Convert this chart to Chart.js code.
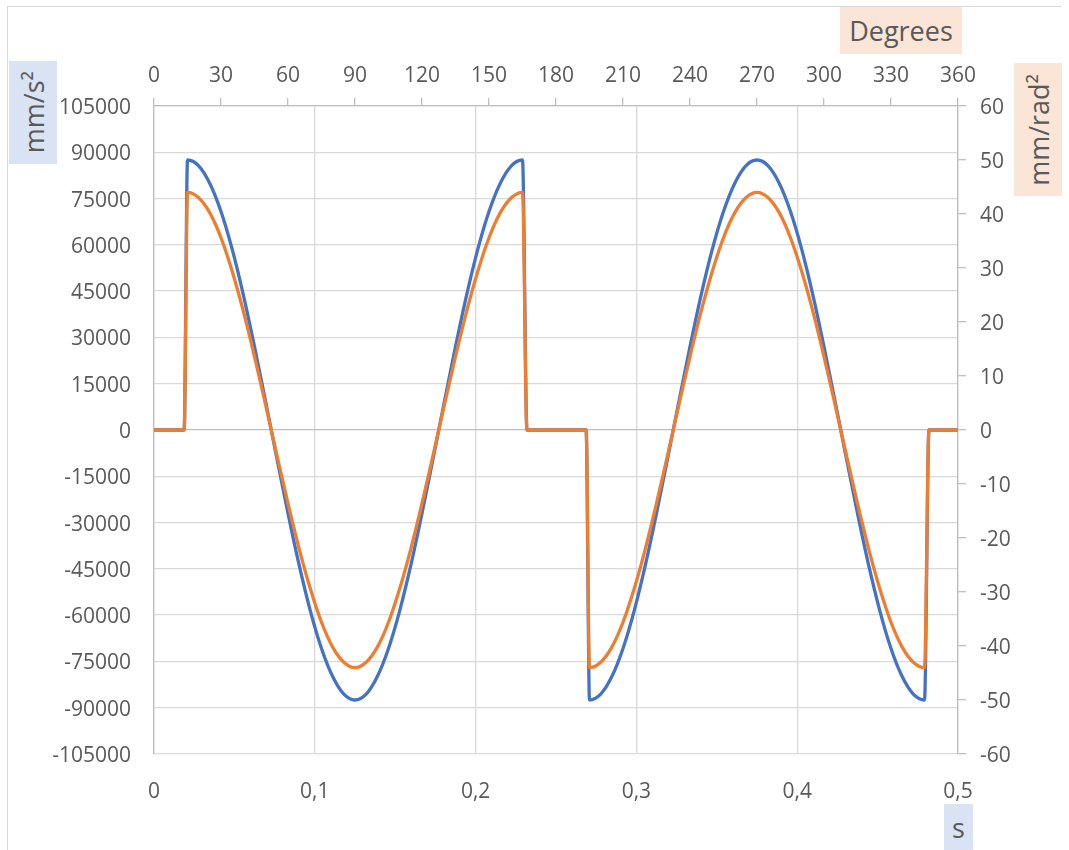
<!DOCTYPE html>
<html>
<head>
<meta charset="utf-8">
<script src="https://cdn.jsdelivr.net/npm/chart.js@4"></script>
<style>
  body { margin: 0; background: #fff; }
  #wrap { position: relative; width: 1069px; height: 850px; overflow: hidden; font-family: "Open Sans", sans-serif; color: #595959; }
  #frame { position: absolute; left: 7px; top: 6px; width: 1054px; height: 870px; border: 1px solid #d9d9d9; border-right: none; box-sizing: border-box; }
  canvas { position: absolute; left: 0; top: 0; }
  .ttl { position: absolute; display: flex; align-items: center; justify-content: center; font-size: 27px; line-height: 1; }
  .vert span { writing-mode: vertical-rl; transform: rotate(180deg); }
</style>
</head>
<body>
<div id="wrap">
  <div id="frame"></div>
  <canvas id="graph" width="1069" height="850"></canvas>
  <div class="ttl" style="left:840px;top:7px;width:122px;height:47px;background:#fbe5d6;">Degrees</div>
  <div class="ttl vert" style="left:9px;top:61px;width:48px;height:103px;background:#dae3f3;"><span>mm/s²</span></div>
  <div class="ttl vert" style="left:1014px;top:63px;width:48px;height:133px;background:#fbe5d6;"><span>mm/rad²</span></div>
  <div class="ttl" style="left:944px;top:804px;width:29px;height:46px;background:#dae3f3;">s</div>
</div>
<script>
// cam angle in degrees (top axis), same span as 0..0.5 s
const degrees = [
  0, 13.5,
  15, 20, 25, 30, 35, 40, 45, 50, 55, 60, 65, 70, 75, 80, 85, 90,
  95, 100, 105, 110, 115, 120, 125, 130, 135, 140, 145, 150, 155, 160, 165,
  167, 193.5,
  195, 200, 205, 210, 215, 220, 225, 230, 235, 240, 245, 250, 255, 260, 265, 270,
  275, 280, 285, 290, 295, 300, 305, 310, 315, 320, 325, 330, 335, 340, 345,
  347, 360
];

// acceleration, mm/s² (left axis)
const accel = [
  0, 0,
  87500, 85600, 79900, 70800, 58600, 43800, 27000, 9100, -9100, -27000, -43800, -58600, -70800, -79900, -85600, -87500,
  -85600, -79900, -70800, -58600, -43800, -27000, -9100, 9100, 27000, 43800, 58600, 70800, 79900, 85600, 87500,
  0, 0,
  -87500, -85600, -79900, -70800, -58600, -43800, -27000, -9100, 9100, 27000, 43800, 58600, 70800, 79900, 85600, 87500,
  85600, 79900, 70800, 58600, 43800, 27000, 9100, -9100, -27000, -43800, -58600, -70800, -79900, -85600, -87500,
  0, 0
];

// acceleration, mm/rad² (right axis)
const accelRad = [
  0, 0,
  44, 43.0, 40.2, 35.6, 29.4, 22.0, 13.6, 4.6, -4.6, -13.6, -22.0, -29.4, -35.6, -40.2, -43.0, -44,
  -43.0, -40.2, -35.6, -29.4, -22.0, -13.6, -4.6, 4.6, 13.6, 22.0, 29.4, 35.6, 40.2, 43.0, 44,
  0, 0,
  -44, -43.0, -40.2, -35.6, -29.4, -22.0, -13.6, -4.6, 4.6, 13.6, 22.0, 29.4, 35.6, 40.2, 43.0, 44,
  43.0, 40.2, 35.6, 29.4, 22.0, 13.6, 4.6, -4.6, -13.6, -22.0, -29.4, -35.6, -40.2, -43.0, -44,
  0, 0
];

const tickFont = { family: "Open Sans", size: 21 };
const txt = "#595959";
const axisGrey = "#bfbfbf";
const gridGrey = "#d9d9d9";

new Chart(document.getElementById("graph"), {
  type: "line",
  data: {
    datasets: [
      {
        label: "mm/s²",
        data: degrees.map((d, i) => ({ x: d, y: accel[i] })),
        xAxisID: "deg",
        yAxisID: "y",
        borderColor: "#4472c4",
        order: 1
      },
      {
        label: "mm/rad²",
        data: degrees.map((d, i) => ({ x: d, y: accelRad[i] })),
        xAxisID: "deg",
        yAxisID: "y2",
        borderColor: "#ed7d31",
        order: 0
      }
    ]
  },
  options: {
    responsive: false,
    animation: false,
    layout: { padding: 0 },
    elements: {
      point: { radius: 0 },
      line: { borderWidth: 3.3, cubicInterpolationMode: "monotone", borderJoinStyle: "round", fill: false }
    },
    plugins: { legend: { display: false }, tooltip: { enabled: false } },
    scales: {
      x: {
        type: "linear",
        position: "bottom",
        min: 0,
        max: 0.5,
        afterFit: s => { s.height = 96; },
        ticks: {
          stepSize: 0.1,
          autoSkip: false,
          maxRotation: 0,
          padding: 25,
          color: txt,
          font: tickFont,
          callback: v => v === 0 ? "0" : v.toFixed(1).replace(".", ",")
        },
        grid: { color: gridGrey, lineWidth: 1.3, drawTicks: false },
        border: { display: false }
      },
      deg: {
        type: "linear",
        position: "top",
        min: 0,
        max: 360,
        afterFit: s => { s.height = 106; },
        ticks: { stepSize: 30, autoSkip: false, maxRotation: 0, padding: 9, color: txt, font: tickFont },
        grid: { drawOnChartArea: false, tickLength: 8, lineWidth: 1.3, color: axisGrey },
        border: { color: axisGrey, width: 1.3 }
      },
      y: {
        position: "left",
        min: -105000,
        max: 105000,
        afterFit: s => { s.width = 154; },
        ticks: { stepSize: 15000, autoSkip: false, padding: 23, labelOffset: 2, color: txt, font: tickFont, callback: v => String(v) },
        grid: { color: c => (c.tick && c.tick.value === 0) ? axisGrey : gridGrey, lineWidth: 1.3, drawTicks: false },
        border: { color: axisGrey, width: 1.3 }
      },
      y2: {
        position: "right",
        min: -60,
        max: 60,
        afterFit: s => { s.width = 111; },
        ticks: { stepSize: 10, autoSkip: false, padding: 14, labelOffset: 2, color: txt, font: tickFont },
        grid: { drawOnChartArea: false, tickLength: 8, lineWidth: 1.3, color: axisGrey },
        border: { color: axisGrey, width: 1.3 }
      }
    }
  }
});
</script>
</body>
</html>
